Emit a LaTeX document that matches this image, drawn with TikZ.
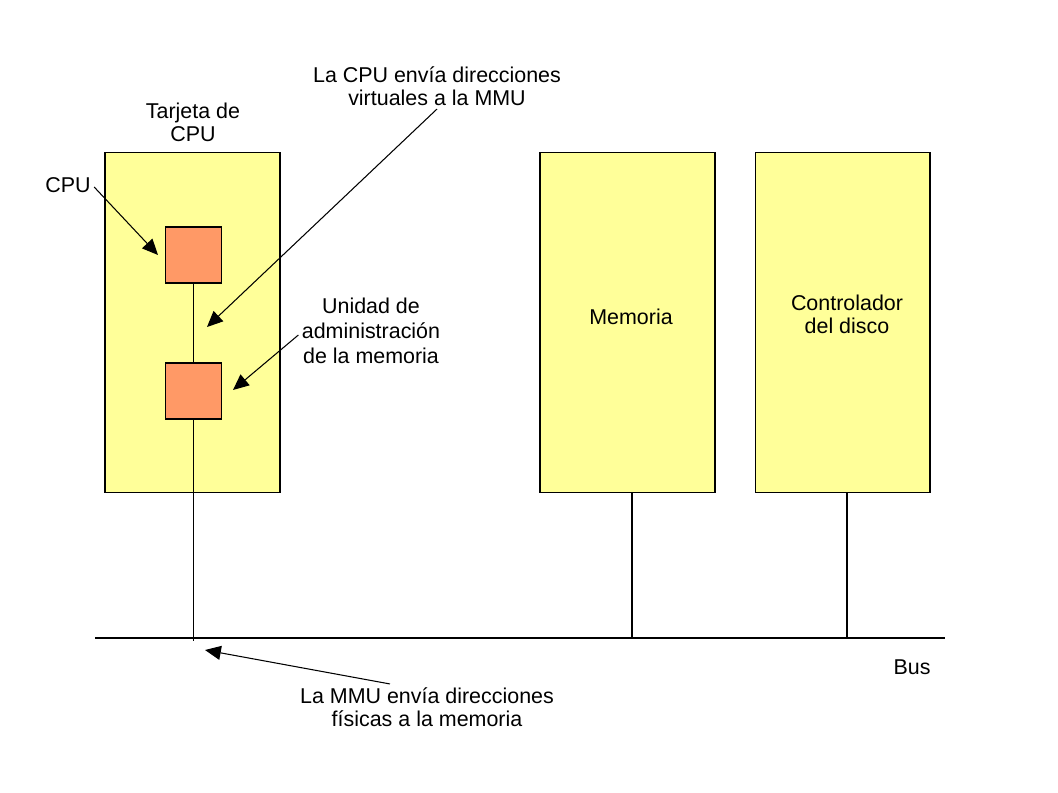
\documentclass[tikz,border=0pt]{standalone}
\usepackage{fontspec}
\setmainfont{Liberation Sans}
\usetikzlibrary{arrows.meta}
\definecolor{cardyellow}{HTML}{FFFF99}
\definecolor{chiporange}{HTML}{FF9966}
\tikzset{
	board/.style={draw, fill=cardyellow, minimum width=3.5cm, minimum height=6.82cm},
	chip/.style={draw, fill=chiporange, minimum width=1.12cm, minimum height=1.12cm},
	note/.style={align=center, inner sep=0pt},
	pointer/.style={-{Triangle[length=9pt,width=8pt]}},
}
\begin{document}
\begin{tikzpicture}[x=0.02cm,y=-0.02cm,line width=0.6pt,
	every node/.append style={font=\fontsize{12.2}{13.1}\selectfont}]
	\useasboundingbox (0,0) rectangle (1058,793);

	% Boards
	\node[board] (card) at (192.5,322.5) {};
	\node[board] (mem) at (627.5,322.5) {};
	\node[board] (disk) at (842.5,322.5) {};
	\node[note] (memlbl) at (631,317) {Memoria};
	\node[note] (disklbl) at (847,314) {Controlador\\del disco};

	% Chips on the CPU board
	\node[chip] (cpu) at (193.5,255) {};
	\node[chip] (mmu) at (193.5,391) {};

	% Bus
	\coordinate (busL) at (95,638);
	\coordinate (busR) at (945,638);
	\coordinate (memtap) at ([xshift=4.5*0.02cm]mem.south);
	\coordinate (disktap) at ([xshift=4.5*0.02cm]disk.south);
	\draw (busL) -- (busR);
	\draw (cpu) -- (mmu);
	\draw (mmu.south) -- ++(0,221);
	\draw (memtap) -- (memtap |- busL);
	\draw (disktap) -- (disktap |- busL);

	% Labels
	\node[note] (cardlbl) at (193,122) {Tarjeta de\\CPU};
	\node[note] (buslbl) at (912,667) {Bus};
	\node[note] (cpulbl) at (68,185) {CPU};
	\node[note] (vlbl) at (437,86) {La CPU envía direcciones\\virtuales a la MMU};
	\node[note, font=\fontsize{12.2}{14.4}\selectfont] (mmulbl) at (371,331) {Unidad de\\administración\\de la memoria};
	\node[note] (plbl) at (427,707) {La MMU envía direcciones\\físicas a la memoria};

	% Pointers
	\coordinate (cpuend) at (158,255);
	\coordinate (vend) at (207,327);
	\coordinate (mmuend) at (233,390);
	\coordinate (pend) at (205,650);
	\draw[pointer] (cpulbl.east) ++(3,2) -- (cpuend);
	\draw[pointer] (vlbl.south) ++(0,3) -- (vend);
	\draw[pointer] (mmulbl.west) ++(-3,4) -- (mmuend);
	\draw[pointer] (plbl.north) ++(-37,-3) -- (pend);

\end{tikzpicture}
\end{document}
